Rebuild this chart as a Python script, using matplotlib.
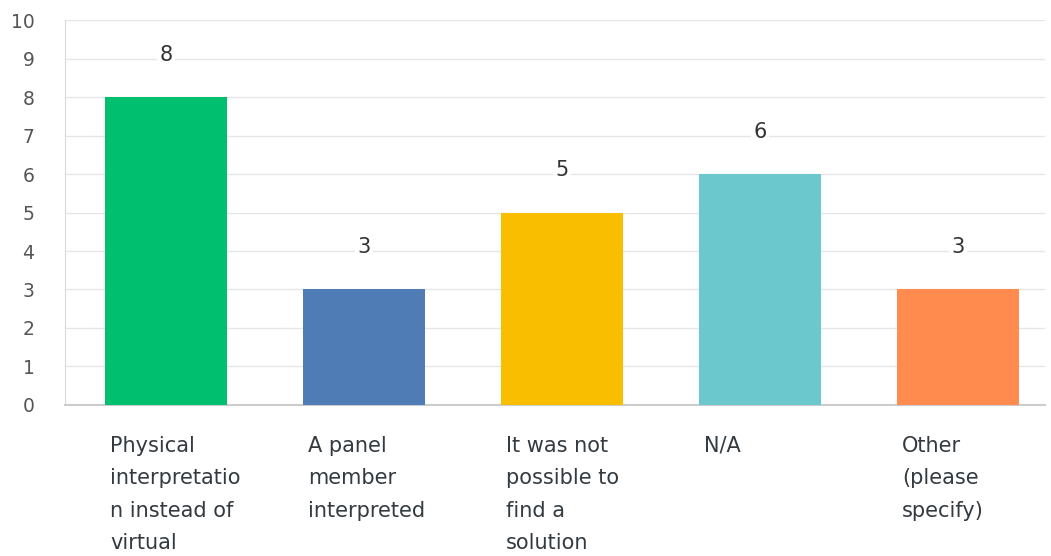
import matplotlib.pyplot as plt
import numpy as np

categories = [
    "Physical\ninterpretatio\nn instead of\nvirtual",
    "A panel\nmember\ninterpreted",
    "It was not\npossible to\nfind a\nsolution",
    "N/A",
    "Other\n(please\nspecify)",
]
values = [8, 3, 5, 6, 3]
colors = ["#00BF6F", "#507CB6", "#F9BE00", "#6BC8CD", "#FF8B4F"]

plt.rcParams['font.family'] = ['DejaVu Sans']

fig = plt.figure(figsize=(10.51, 5.56), dpi=100)
ax = fig.add_axes([0.0618, 0.2716, 0.9325, 0.6924])

x = np.arange(len(values))
width = 0.616
ax.bar(x, values, width=width, color=colors, zorder=3)

# 棒の上に値を表示
for xi, v in zip(x, values):
    ax.text(xi, v + 1.1, str(v), ha='center', va='center', fontsize=15,
            color='#333333', zorder=4,
            bbox=dict(facecolor='white', edgecolor='none', pad=2))

# カテゴリラベル（左揃え）
for xi, lab in zip(x, categories):
    ax.text(xi - width / 2 + 0.025, -0.8, lab, ha='left', va='top',
            fontsize=15, color='#333a40', linespacing=1.78, clip_on=False)

ax.set_xlim(-0.51, 4.44)
ax.set_ylim(0, 10)
ax.set_yticks(range(0, 11))
ax.set_xticks([])
ax.tick_params(axis='y', length=0, pad=22, labelsize=13.5, labelcolor='#555555')
for lab in ax.get_yticklabels():
    lab.set_horizontalalignment('right')

ax.grid(axis='y', color='#e6e6e6', linewidth=1, zorder=0)
for side in ['top', 'right']:
    ax.spines[side].set_visible(False)
ax.spines['left'].set_color('#d9d9d9')
ax.spines['bottom'].set_color('#cccccc')
ax.spines['bottom'].set_linewidth(1.5)

plt.savefig('out.png', dpi=100)
